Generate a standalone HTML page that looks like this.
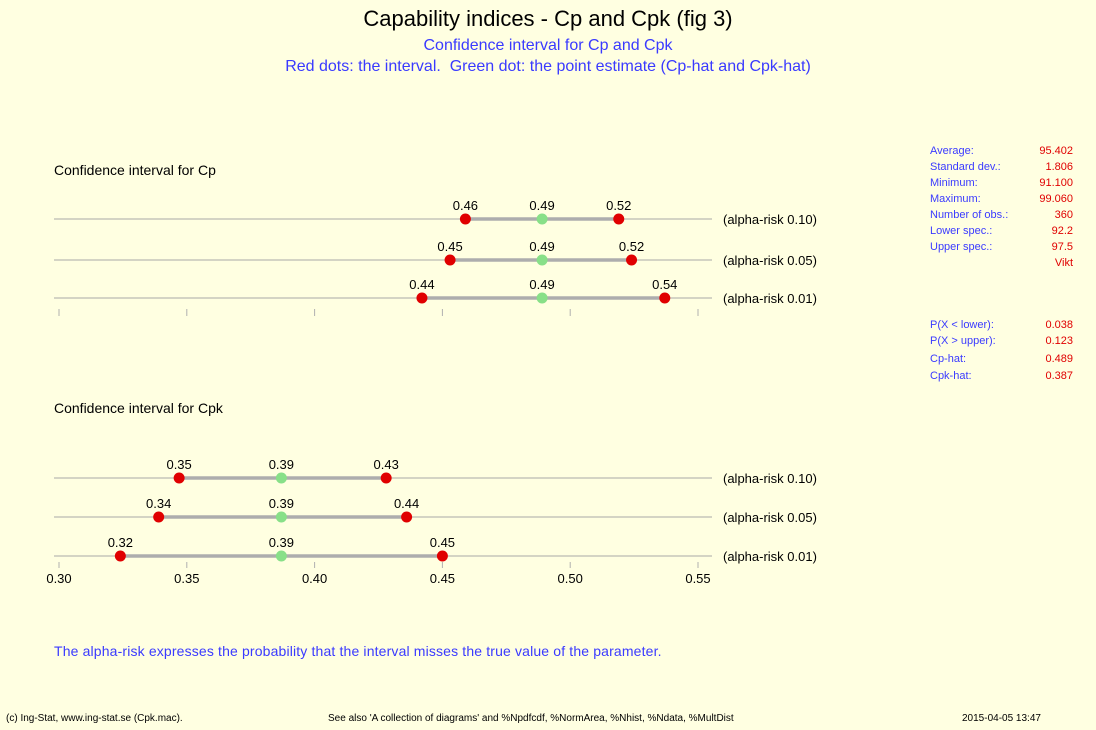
<!DOCTYPE html>
<html><head><meta charset="utf-8"><style>
body{margin:0;background:#ffffe1;font-family:"Liberation Sans","DejaVu Sans",sans-serif;}
#w{position:relative;width:1096px;height:730px;overflow:hidden;background:#ffffe1}
.t{position:absolute;white-space:nowrap}
.st{font-size:11px;color:#3a3aff}
.sv{font-size:11px;color:#e00000;text-align:right;width:80px}
</style></head><body>
<div id="w">
<div class="t" style="left:0;width:1096px;text-align:center;top:6px;font-size:22px;color:#000">Capability indices - Cp and Cpk (fig 3)</div>
<div class="t" style="left:0;width:1096px;text-align:center;top:37px;font-size:16px;color:#3a3aff">Confidence interval for Cp and Cpk</div>
<div class="t" style="left:0;width:1096px;text-align:center;top:58px;font-size:16px;color:#3a3aff">Red dots: the interval.&nbsp; Green dot: the point estimate (Cp-hat and Cpk-hat)</div>
<div class="t" style="left:54px;top:162px;font-size:14px">Confidence interval for Cp</div>
<div class="t" style="left:54px;top:400px;font-size:14px">Confidence interval for Cpk</div>
<div class="t" style="left:54px;top:643px;font-size:14px;color:#3a3aff;letter-spacing:0.15px">The alpha-risk expresses the probability that the interval misses the true value of the parameter.</div>
<div class="t" style="left:6px;top:713px;font-size:10px">(c) Ing-Stat, www.ing-stat.se (Cpk.mac).</div>
<div class="t" style="left:328px;top:713px;font-size:10px">See also 'A collection of diagrams' and %Npdfcdf, %NormArea, %Nhist, %Ndata, %MultDist</div>
<div class="t" style="left:962px;top:713px;font-size:10px">2015-04-05 13:47</div>
<div id="stats"></div>
<svg id="svg" width="1096" height="730" style="position:absolute;left:0;top:0"></svg>
</div>
<script>
const cpLow=[0.459,0.453,0.442];
const cpEst=[0.489,0.489,0.489];
const cpHigh=[0.519,0.524,0.537];
const cpkLow=[0.347,0.339,0.324];
const cpkEst=[0.387,0.387,0.387];
const cpkHigh=[0.428,0.436,0.450];
const riskLabels=["(alpha-risk 0.10)","(alpha-risk 0.05)","(alpha-risk 0.01)"];
const xTicks=[0.30,0.35,0.40,0.45,0.50,0.55];
const statLabels=["Average:","Standard dev.:","Minimum:","Maximum:","Number of obs.:","Lower spec.:","Upper spec.:","","P(X < lower):","P(X > upper):","Cp-hat:","Cpk-hat:"];
const statValues=["95.402","1.806","91.100","99.060","360","92.2","97.5","Vikt","0.038","0.123","0.489","0.387"];
const statY=[146,162,178,194,210,226,242,258,320,336,354,371];

const X=v=>59+(v-0.30)*(698-59)/0.25;
const NS="http://www.w3.org/2000/svg";
const svg=document.getElementById('svg');
function mk(t,a){const e=document.createElementNS(NS,t);for(const k in a)e.setAttribute(k,a[k]);svg.appendChild(e);return e;}
function group(lo,es,hi,ys,prefix){
  for(let i=0;i<ys.length;i++){
    const y=ys[i];
    let e=mk('line',{x1:54,x2:712,y1:y,y2:y,stroke:'#a8a8a8','stroke-width':1});
    
    
    e=mk('line',{x1:X(lo[i]),x2:X(hi[i]),y1:y,y2:y,stroke:'#adadad','stroke-width':3.5});
    
    
    [[lo[i],'#e00000','low'],[es[i],'#88e088','est'],[hi[i],'#e00000','high']].forEach(([v,c,n])=>{
      const d=mk('circle',{cx:X(v),cy:y,r:5.5,fill:c});
      
      
      const t=mk('text',{x:X(v),y:y-9,'text-anchor':'middle','font-size':13,fill:'#000','font-family':'Liberation Sans, sans-serif'});
      t.textContent=v.toFixed(2);
      
      
    });
    const r=mk('text',{x:723,y:y+5,'font-size':13,fill:'#000','font-family':'Liberation Sans, sans-serif'});
    r.textContent=riskLabels[i];
    
    
  }
}
group(cpLow,cpEst,cpHigh,[219,260,298],'cp');
group(cpkLow,cpkEst,cpkHigh,[478,517,556],'cpk');
xTicks.forEach((v,i)=>{
  let e=mk('line',{x1:X(v),x2:X(v),y1:309,y2:316,stroke:'#b0b0b0'});
  
  
  e=mk('line',{x1:X(v),x2:X(v),y1:562,y2:568,stroke:'#b0b0b0'});
  
  
  const t=mk('text',{x:X(v),y:583,'text-anchor':'middle','font-size':13,fill:'#000','font-family':'Liberation Sans, sans-serif'});
  t.textContent=v.toFixed(2);
  
  
});
const st=document.getElementById('stats');
statLabels.forEach((l,i)=>{
  const a=document.createElement('div');a.className='t st';a.style.left='930px';a.style.top=(statY[i]-1)+'px';a.textContent=l;
  
  
  st.appendChild(a);
  const b=document.createElement('div');b.className='t sv';b.style.left='993px';b.style.top=(statY[i]-1)+'px';b.textContent=statValues[i];
  
  
  st.appendChild(b);
});
</script>
</body></html>
